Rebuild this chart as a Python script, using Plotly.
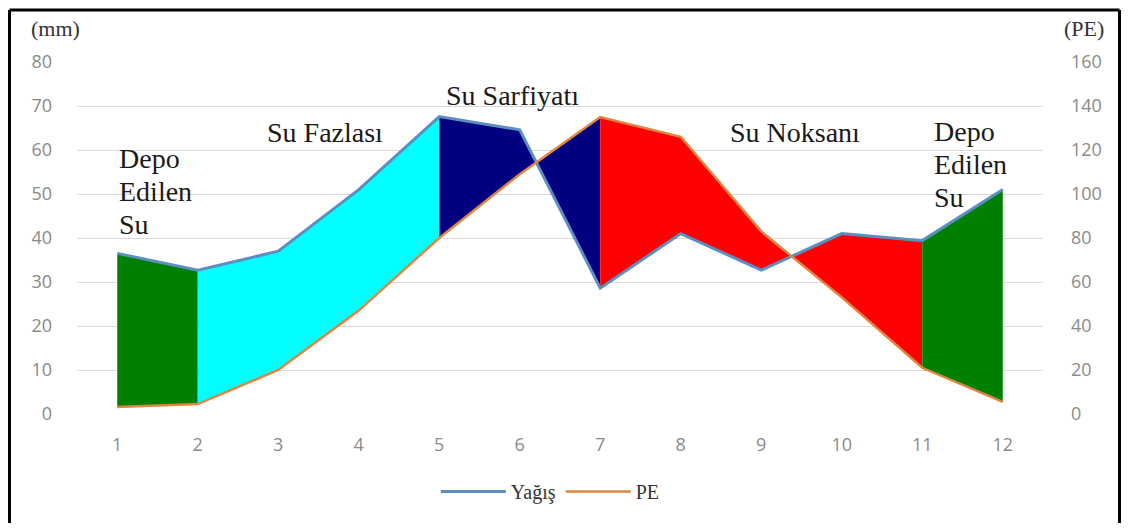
import plotly.graph_objects as go

# months 1..12
months = [1, 2, 3, 4, 5, 6, 7, 8, 9, 10, 11, 12]
# precipitation (mm, left axis)
yagis = [36.5, 32.7, 37, 51, 67.6, 64.6, 28.6, 41, 32.7, 41, 39.4, 51]
# potential evapotranspiration (PE, right axis)
pe = [3.2, 4.5, 20, 47, 80, 109, 135, 126, 83, 53, 21, 5.5]

# shaded periods: (start month, end month, colour)
periods = [(1, 2, "#008000"), (2, 5, "#00ffff"), (5, 7, "#000080"),
           (7, 11, "#ff0000"), (11, 12, "#008000")]

left_ticks = [0, 10, 20, 30, 40, 50, 60, 70, 80]
right_ticks = [0, 20, 40, 60, 80, 100, 120, 140, 160]
PE_SCALE = right_ticks[-1] / left_ticks[-1]

serif = "Liberation Serif"
grey = "#8a8a8a"

fig = go.Figure()

# coloured areas between the two curves (drawn in left-axis units)
for a, b, col in periods:
    xs = months[a - 1:b]
    top = yagis[a - 1:b]
    bot = [v / PE_SCALE for v in pe[a - 1:b]]
    fig.add_trace(go.Scatter(
        x=xs + xs[::-1], y=top + bot[::-1],
        fill="toself", fillcolor=col, mode="lines",
        line=dict(width=0), showlegend=False, hoverinfo="skip"))

fig.add_trace(go.Scatter(x=months, y=yagis, name="Yağış", mode="lines",
                         line=dict(color="#5b8fc0", width=3)))
fig.add_trace(go.Scatter(x=months, y=pe, name="PE", mode="lines",
                         line=dict(color="#e0863f", width=2.5), yaxis="y2"))

tick_font = dict(family="Open Sans", size=18, color=grey)

# page body has an 8px margin, so the figure is sized/offset to compensate
fig.update_layout(
    width=1113, height=515,
    margin=dict(l=69, r=78, t=54, b=106),
    plot_bgcolor="white", paper_bgcolor="white",
    showlegend=True,
    legend=dict(orientation="h", x=0.49, xanchor="center", y=-0.22, yanchor="middle",
                itemwidth=65, font=dict(family=serif, size=20, color="#333333")),
    xaxis=dict(range=[0.5, 12.5], tickmode="array", tickvals=months,
               showgrid=False, zeroline=False, showline=False, automargin=False,
               tickfont=tick_font, ticklabelstandoff=18),
    yaxis=dict(range=[0, 80], tickmode="array", tickvals=left_ticks,
               showgrid=True, gridcolor="#d9d9d9", gridwidth=1, zeroline=False,
               automargin=False, tickfont=tick_font, ticklabelstandoff=24),
    yaxis2=dict(range=[0, 160], tickmode="array", tickvals=right_ticks,
                overlaying="y", side="right", showgrid=False, zeroline=False,
                automargin=False, tickfont=tick_font, ticklabelstandoff=27),
)

# axis unit labels
for txt, x in [("(mm)", -0.022), ("(PE)", 1.042)]:
    fig.add_annotation(text=txt, xref="paper", yref="paper", x=x, y=1.096,
                       xanchor="center", yanchor="middle", showarrow=False,
                       font=dict(family=serif, size=22, color="#333333"))

# region labels: (lines, x, y of middle line, anchor)
labels = [
    (["Depo", "Edilen", "Su"], 1.0, 50.5, "left"),
    (["Su Fazlası"], 3.58, 64, "center"),
    (["Su Sarfiyatı"], 5.91, 72.3, "center"),
    (["Su Noksanı"], 9.42, 64, "center"),
    (["Depo", "Edilen", "Su"], 11.12, 56.8, "left"),
]
line_gap = 33
for lines, x, y, anc in labels:
    mid = (len(lines) - 1) / 2
    for i, txt in enumerate(lines):
        fig.add_annotation(text=txt, x=x, y=y, xref="x", yref="y", showarrow=False,
                           xanchor=anc, yanchor="middle", yshift=(mid - i) * line_gap,
                           font=dict(family=serif, size=28, color="#1a1a1a"))

# black frame round the picture: left, top and right edges only
frame = dict(color="black", width=3)
fx0, fx1, fy_top, fy_bot = -0.0699, 1.0792, 1.1479, -0.5
fig.add_shape(type="line", xref="paper", yref="paper", x0=fx0, x1=fx0, y0=fy_bot, y1=fy_top, line=frame)
fig.add_shape(type="line", xref="paper", yref="paper", x0=fx0, x1=fx1, y0=fy_top, y1=fy_top, line=frame)
fig.add_shape(type="line", xref="paper", yref="paper", x0=fx1, x1=fx1, y0=fy_bot, y1=fy_top, line=frame)

fig.write_html("out.html")
